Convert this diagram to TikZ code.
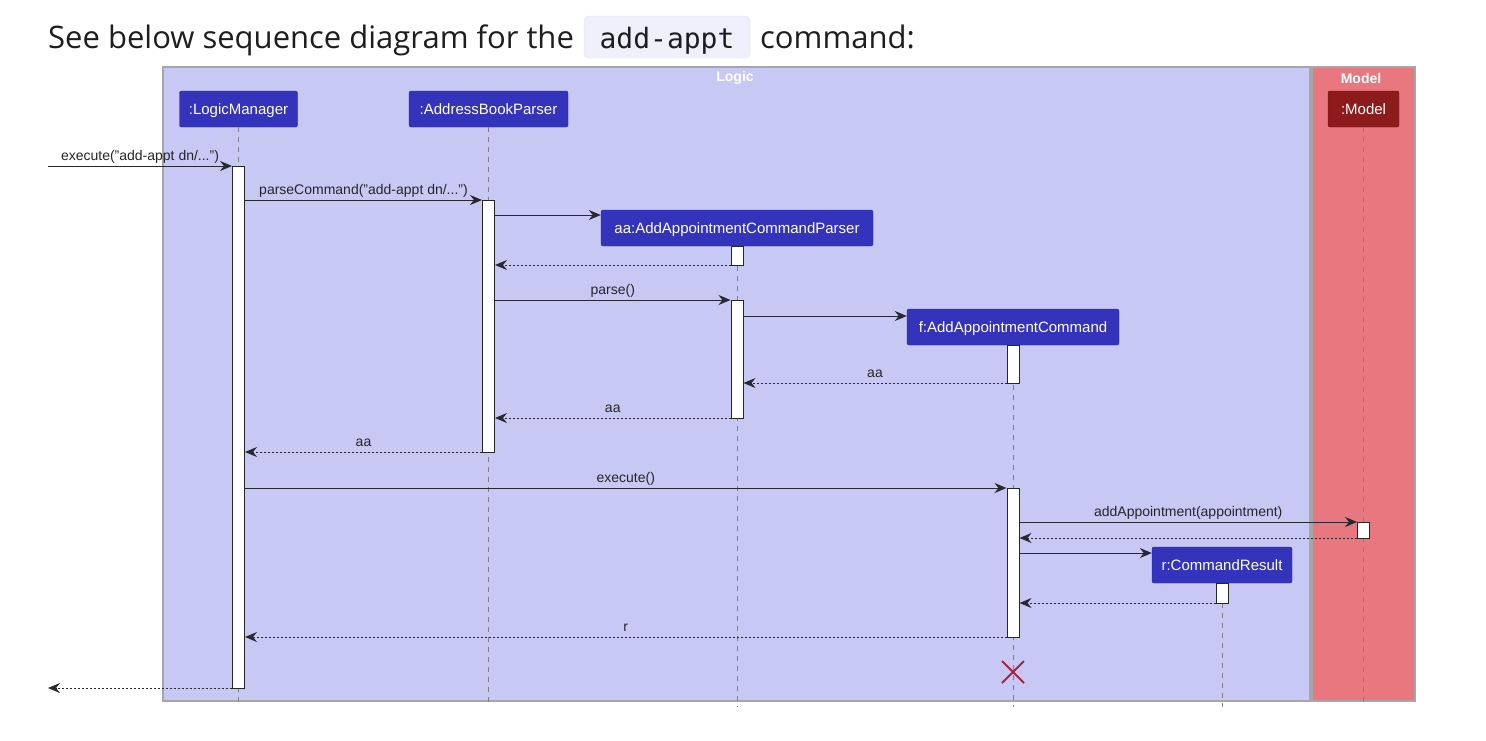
\documentclass[tikz,border=0pt]{standalone}
\usepackage{fontspec}
\setmainfont{Liberation Sans}
\newfontfamily\titlefont{Open Sans}
\setmonofont{DejaVu Sans Mono}
\usetikzlibrary{arrows.meta}

\definecolor{logicbg}{RGB}{200,200,245}
\definecolor{modelbg}{RGB}{232,119,127}
\definecolor{partblue}{RGB}{51,51,187}
\definecolor{partred}{RGB}{142,27,27}
\definecolor{killred}{RGB}{168,32,62}
\definecolor{codebg}{RGB}{239,240,251}
\definecolor{codeline}{RGB}{222,224,240}
\definecolor{msgline}{RGB}{40,40,50}
\definecolor{titletext}{RGB}{30,30,30}

\tikzset{
	part/.style={draw=partblue!80!black, fill=partblue, text=white, rounded corners=2pt,
		minimum height=36pt, inner sep=0pt, text height=11pt, text depth=1pt,
		font=\fontsize{15}{15}\selectfont},
	act/.style={draw=black!85, fill=white, minimum width=12pt, inner sep=0pt, line width=1pt},
	life/.style={draw=black!50, dash pattern=on 5pt off 5pt, line width=1pt},
	msg/.style={->, draw=msgline, line width=1pt},
	ret/.style={msg, dash pattern=on 2pt off 2pt},
	lbl/.style={above, inner xsep=0pt, inner ysep=5pt, text depth=0pt, text=black!85},
	frametitle/.style={text=white, inner sep=0pt, font=\bfseries\fontsize{14}{14}\selectfont},
}

\begin{document}
\begin{tikzpicture}[x=1pt, y=-1pt, >={Stealth[length=12pt,width=10pt,inset=4pt]}]
		\useasboundingbox (0,0) rectangle (1486,740);
		\fill[white] (0,0) rectangle (1486,740);
		%
		\node[anchor=base west, inner sep=0pt, text=titletext, font=\titlefont\fontsize{31}{31}\selectfont] (title) at (48,48) {See below sequence diagram for the};
		\draw[fill=codebg, draw=codeline, rounded corners=5pt] (584,16) rectangle (750,58);
		\node[anchor=base, inner sep=0pt, text=titletext, font=\ttfamily\fontsize{28}{28}\selectfont] (code) at (667,48) {add-appt};
		\node[anchor=base west, inner sep=0pt, text=titletext, font=\titlefont\fontsize{31}{31}\selectfont] (cmd) at (760,48) {command:};
		%
		\draw[fill=logicbg, draw=black!35, line width=1.2pt] (163,67) rectangle (1310,701);
		\draw[fill=modelbg, draw=black!35, line width=1.2pt] (1312,67) rectangle (1415,701);
		\node[frametitle] (logicT) at (735,78) {Logic};
		\node[frametitle] (modelT) at (1361,78) {Model};
		%
		\node[part, minimum width=118pt] (LM) at (238.5,109) {:LogicManager};
		\node[part, minimum width=159pt] (ABP) at (488.5,109) {:AddressBookParser};
		\node[part, minimum width=272pt] (AACP) at (737,228) {aa:AddAppointmentCommandParser};
		\node[part, minimum width=212pt] (AAC) at (1013,327) {f:AddAppointmentCommand};
		\node[part, minimum width=140pt] (CR) at (1222,565) {r:CommandResult};
		\node[part, fill=partred, draw=partred!80!black, minimum width=71pt] (MDL) at (1363.5,109) {:Model};
		%
		\foreach \p in {LM,ABP,AACP,AAC,CR,MDL}
			\draw[life] (\p.south) -- (\p.south |- 0,707);
		%
		\node[act, minimum height=522pt] (LMa) at (LM.south |- 0,427) {};
		\node[act, minimum height=252pt] (ABPa) at (ABP.south |- 0,326) {};
		\node[act, minimum height=19pt] (AACPa1) at (AACP.south |- 0,255.5) {};
		\node[act, minimum height=118pt] (AACPa2) at (AACP.south |- 0,359) {};
		\node[act, minimum height=38pt] (AACa1) at (AAC.south |- 0,364) {};
		\node[act, minimum height=149pt] (AACa2) at (AAC.south |- 0,562.5) {};
		\node[act, minimum height=16pt] (MDLa) at (MDL.south |- 0,530) {};
		\node[act, minimum height=20pt] (CRa) at (CR.south |- 0,593) {};
		%
		\coordinate (in) at (48,166);
		\coordinate (out) at (48,688);
		\coordinate (kill) at (AAC.south |- 0,672);
		%
		\path[font=\fontsize{14}{14}\selectfont]
		(in) edge[msg] node[lbl]{execute("add-appt dn/...")} (LMa.west |- in)
		(LMa.east |- 0,200) edge[msg] node[lbl]{parseCommand("add-appt dn/...")} (ABPa.west |- 0,200)
		(ABPa.east |- 0,215) edge[msg] (AACP.west |- 0,215)
		(AACPa1.west |- 0,265) edge[ret] (ABPa.east |- 0,265)
		(ABPa.east |- 0,300) edge[msg] node[lbl]{parse()} (AACPa2.west |- 0,300)
		(AACPa2.east |- 0,316) edge[msg] (AAC.west |- 0,316)
		(AACa1.west |- 0,383) edge[ret] node[lbl]{aa} (AACPa2.east |- 0,383)
		(AACPa2.west |- 0,418) edge[ret] node[lbl]{aa} (ABPa.east |- 0,418)
		(ABPa.west |- 0,452) edge[ret] node[lbl]{aa} (LMa.east |- 0,452)
		(LMa.east |- 0,488) edge[msg] node[lbl]{execute()} (AACa2.west |- 0,488)
		(AACa2.east |- 0,522) edge[msg] node[lbl]{addAppointment(appointment)} (MDLa.west |- 0,522)
		(MDLa.west |- 0,538) edge[ret] (AACa2.east |- 0,538)
		(AACa2.east |- 0,553) edge[msg] (CR.west |- 0,553)
		(CRa.west |- 0,603) edge[ret] (AACa2.east |- 0,603)
		(AACa2.west |- 0,637) edge[ret] node[lbl]{r} (LMa.east |- 0,637)
		(LMa.west |- out) edge[ret] (out);
		%
		\draw[killred, line width=2pt] ([shift={(-11,-11)}]kill) -- ([shift={(11,11)}]kill)
			([shift={(-11,11)}]kill) -- ([shift={(11,-11)}]kill);
\end{tikzpicture}
\end{document}
